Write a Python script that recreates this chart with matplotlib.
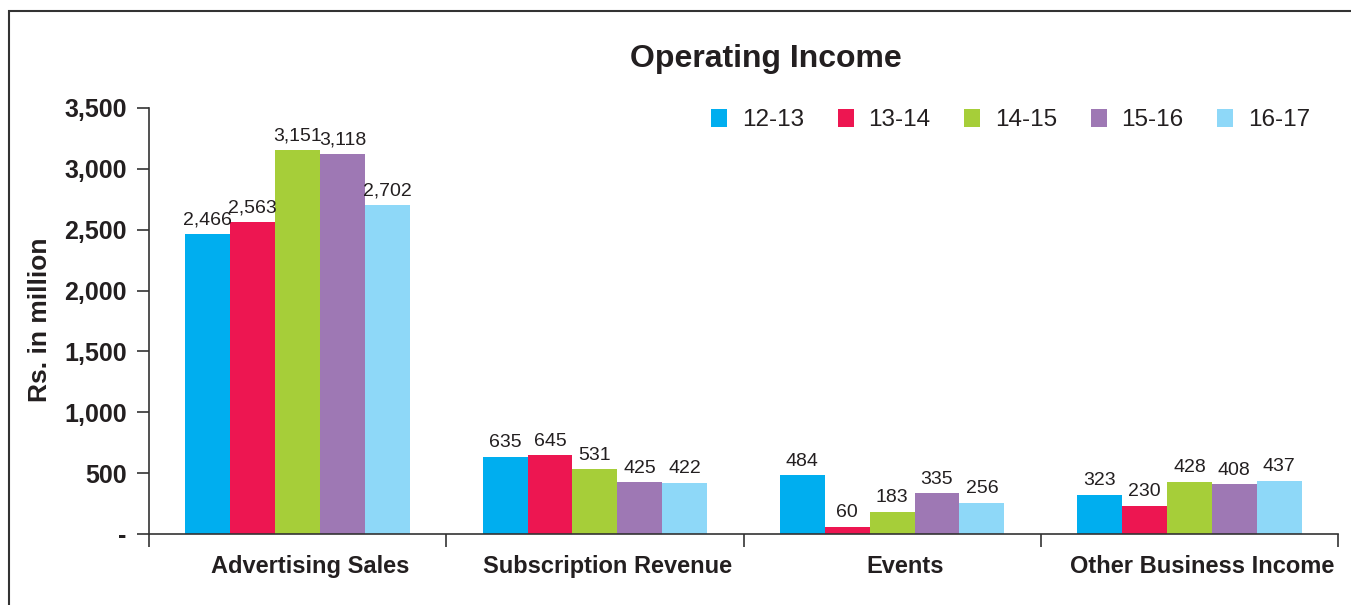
import matplotlib
matplotlib.use("Agg")
import matplotlib.pyplot as plt
from matplotlib.patches import Rectangle
from matplotlib.transforms import ScaledTranslation
import numpy as np

plt.rcParams['font.family'] = ['Liberation Sans', 'DejaVu Sans']

categories = ["Advertising Sales", "Subscription Revenue", "Events", "Other Business Income"]
series_names = ["12-13", "13-14", "14-15", "15-16", "16-17"]
v_12_13 = [2466, 635, 484, 323]
v_13_14 = [2563, 645, 60, 230]
v_14_15 = [3151, 531, 183, 428]
v_15_16 = [3118, 425, 335, 408]
v_16_17 = [2702, 422, 256, 437]
series_values = [v_12_13, v_13_14, v_14_15, v_15_16, v_16_17]
colors = ["#00AEEF", "#ED1651", "#A6CE39", "#9E78B4", "#8ED8F8"]
ytick_values = [0, 500, 1000, 1500, 2000, 2500, 3000, 3500]
ytick_labels = ["-", "500", "1,000", "1,500", "2,000", "2,500", "3,000", "3,500"]

W, H = 1351, 605
fig = plt.figure(figsize=(W / 100, H / 100), dpi=100)
ax = fig.add_axes([149 / W, 1 - 534 / H, (1338 - 149) / W, (534 - 108) / H])

x = np.arange(len(categories))
bw = 0.151
n = len(series_names)
for i, (name, vals, c) in enumerate(zip(series_names, series_values, colors)):
    pos = x + (i - (n - 1) / 2) * bw
    bars = ax.bar(pos, vals, width=bw, color=c, label=name, linewidth=0)
    ax.bar_label(bars, labels=[f"{v:,}" for v in vals], padding=4,
                 fontsize=14, color="#231F20")

ax.set_xlim(-0.5, len(categories) - 0.5)
ax.set_ylim(0, 3500)
ax.set_yticks(ytick_values)
ax.set_yticklabels(ytick_labels, fontsize=18, fontweight="bold", color="#231F20")
ax.tick_params(axis="y", direction="out", length=9, width=1.2, color="#333333", pad=7)

ax.set_xticks(np.arange(-0.5, len(categories), 1.0))
ax.set_xticklabels([])
ax.tick_params(axis="x", which="major", direction="out", length=9, width=1.2, color="#333333")
ax.set_xticks(x, minor=True)
ax.set_xticklabels(categories, minor=True, fontsize=17, fontweight="bold", color="#231F20")
ax.tick_params(axis="x", which="minor", length=0, pad=15)
shift = ScaledTranslation(13 / 100, 0, fig.dpi_scale_trans)
for lbl in ax.get_xticklabels(minor=True):
    lbl.set_transform(lbl.get_transform() + shift)

for s in ["top", "right"]:
    ax.spines[s].set_visible(False)
for s in ["left", "bottom"]:
    ax.spines[s].set_color("#333333")
    ax.spines[s].set_linewidth(1.2)

leg = ax.legend(loc="center right", bbox_to_anchor=(1310 / W, 1 - 120 / H),
                bbox_transform=fig.transFigure, ncol=5, frameon=False,
                fontsize=17.5, handlelength=0.65, handleheight=0.75,
                handletextpad=0.6, columnspacing=1.4, borderpad=0, borderaxespad=0)
for t in leg.get_texts():
    t.set_color("#231F20")

fig.text(766 / W, 1 - 59 / H, "Operating Income", ha="center", va="center",
         fontsize=23, fontweight="bold", color="#231F20")
fig.text(40 / W, 1 - 320 / H, "Rs. in million", ha="center", va="center",
         rotation=90, fontsize=19, fontweight="bold", color="#231F20")

border = Rectangle((9 / W, -0.05), 2.0, 1 - 11 / H + 0.05, transform=fig.transFigure,
                   fill=False, edgecolor="#333333", linewidth=1.5, clip_on=False)
fig.patches.append(border)

fig.savefig("out.png", dpi=100)
